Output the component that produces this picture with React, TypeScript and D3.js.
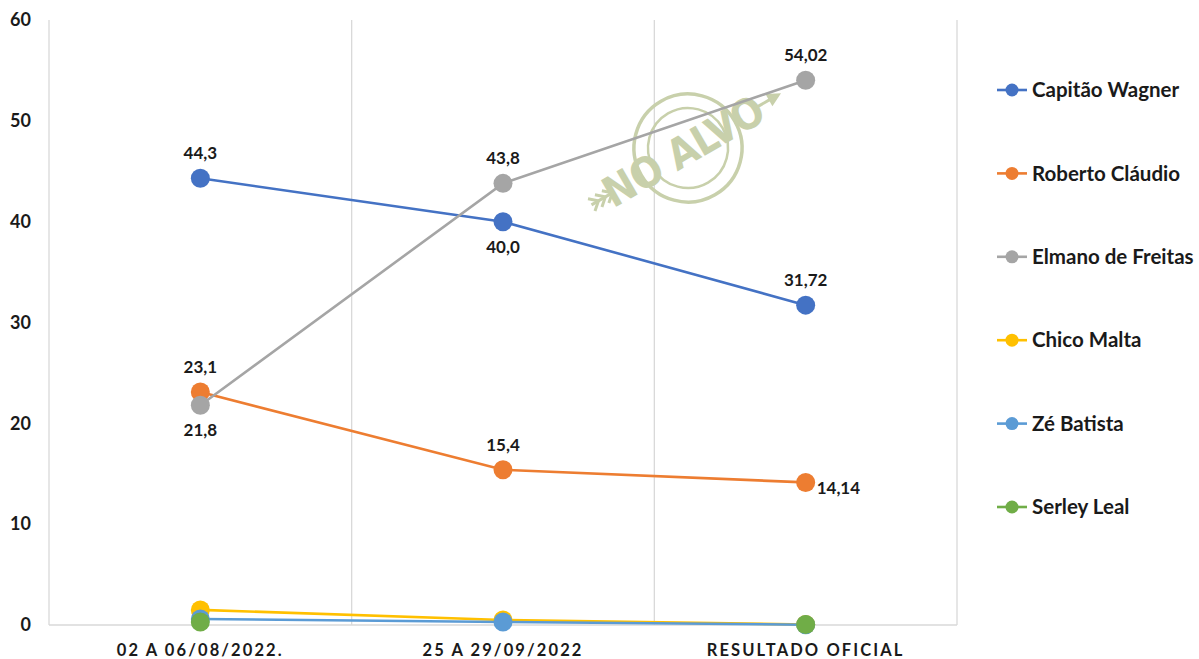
import React from "react";
import * as d3 from "d3";

const categories = ["02 A 06/08/2022.", "25 A 29/09/2022", "RESULTADO OFICIAL"];
const seriesNames = ["Capitão Wagner", "Roberto Cláudio", "Elmano de Freitas", "Chico Malta", "Zé Batista", "Serley Leal"];
const capitaoWagner: (number | null)[] = [44.3, 40.0, 31.72];
const robertoClaudio: (number | null)[] = [23.1, 15.4, 14.14];
const elmanoFreitas: (number | null)[] = [21.8, 43.8, 54.02];
const chicoMalta: (number | null)[] = [1.5, 0.5, 0.05];
const zeBatista: (number | null)[] = [0.6, 0.3, 0.03];
const serleyLeal: (number | null)[] = [0.3, null, 0.04];
const colors = ["#4472C4", "#ED7D31", "#A5A5A5", "#FFC000", "#5B9BD5", "#70AD47"];
const yTicks = [0, 10, 20, 30, 40, 50, 60];
// labels: [seriesIndex, pointIndex, text, position]
const dataLabels: [number, number, string, string][] = [
  [0, 0, "44,3", "above"], [0, 1, "40,0", "below"], [0, 2, "31,72", "above"],
  [1, 0, "23,1", "above"], [1, 1, "15,4", "above"], [1, 2, "14,14", "right"],
  [2, 0, "21,8", "below"], [2, 1, "43,8", "above"], [2, 2, "54,02", "above"],
];

const allSeries = [capitaoWagner, robertoClaudio, elmanoFreitas, chicoMalta, zeBatista, serleyLeal];

export default function App() {
  const W = 1199, H = 659;
  const left = 49, right = 957, top = 20, bottom = 625;
  const x = d3.scaleBand<string>().domain(categories).range([left, right]);
  const y = d3.scaleLinear().domain([0, 60]).range([bottom, top]);
  const cx = (i: number) => (x(categories[i]) as number) + x.bandwidth() / 2;
  const line = d3.line<number | null>().defined((v) => v != null).x((_, i) => cx(i)).y((v) => y(v as number));
  const font = "Lato, 'Open Sans', sans-serif";
  const grid = "#d9d9d9";
  const wm = "#c8d0ab";

  return (
    <svg width={W} height={H} style={{ position: "absolute", left: 0, top: 0, background: "#fff" }} fontFamily={font}>
      {/* grid */}
      <line x1={left} x2={left} y1={top} y2={bottom} stroke={grid} strokeWidth={1.3} />
      {categories.map((c) => (
        <line key={c} x1={(x(c) as number) + x.bandwidth()} x2={(x(c) as number) + x.bandwidth()} y1={top} y2={bottom} stroke={grid} strokeWidth={1.3} />
      ))}
      <line x1={left} x2={right} y1={bottom} y2={bottom} stroke={grid} strokeWidth={1.3} />
      {/* y tick labels */}
      {yTicks.map((t) => (
        <text key={t} x={31} y={y(t)} dy="0.35em" textAnchor="end" fontSize={18} fontWeight={700} fill="#1a1a1a">{t}</text>
      ))}
      {/* x labels */}
      {categories.map((c, i) => (
        <text key={c} x={cx(i)} y={656} textAnchor="middle" fontSize={16.5} fontWeight={700} letterSpacing={2.1} fill="#1a1a1a">{c}</text>
      ))}
      {/* watermark */}
      <g transform="translate(688,148) rotate(-30)">
        <circle r={54} fill="none" stroke={wm} strokeWidth={3.5} />
        <circle r={40} fill="none" stroke={wm} strokeWidth={2.5} />
        <text x={-6} y={15} textAnchor="middle" fontSize={42} fontWeight={700} fill={wm} fontFamily="'DejaVu Sans Condensed', 'Liberation Sans Narrow', sans-serif" letterSpacing={-1}>NO ALVO</text>
        <line x1={80} x2={96} y1={-1} y2={-1} stroke={wm} strokeWidth={3} />
        <path d="M94,-8 L108,-1 L94,6 Z" fill={wm} />
        <line x1={-112} x2={-86} y1={1} y2={1} stroke={wm} strokeWidth={3} />
        <path d="M-112,-6 L-104,1 L-112,8 M-104,-6 L-96,1 L-104,8 M-96,-6 L-88,1 L-96,8" fill="none" stroke={wm} strokeWidth={3} />
      </g>
      {/* series */}
      {allSeries.map((s, si) => (
        <g key={si}>
          <path d={line(s) as string} fill="none" stroke={colors[si]} strokeWidth={2.6} />
          {s.map((v, i) => v == null ? null : (
            <circle key={i} cx={cx(i)} cy={y(v)} r={9.5} fill={colors[si]} />
          ))}
        </g>
      ))}
      {/* data labels */}
      {dataLabels.map(([si, pi, txt, pos], k) => {
        const px = cx(pi), py = y(allSeries[si][pi] as number);
        let tx = px, ty = py, anchor = "middle";
        if (pos === "above") ty = py - 19;
        else if (pos === "below") ty = py + 31;
        else { tx = px + 11; ty = py + 12; anchor = "start"; }
        return (
          <text key={k} x={tx} y={ty} textAnchor={anchor as any} fontSize={17} fontWeight={700} fill="#1a1a1a">{txt}</text>
        );
      })}
      {/* legend */}
      {seriesNames.map((n, i) => {
        const ly = 90 + i * 83.4;
        return (
          <g key={n}>
            <line x1={997} x2={1027} y1={ly} y2={ly} stroke={colors[i]} strokeWidth={2.6} />
            <circle cx={1012} cy={ly} r={6.5} fill={colors[i]} />
            <text x={1032} y={ly} dy="0.35em" fontSize={20.5} fontWeight={700} fill="#1a1a1a">{n}</text>
          </g>
        );
      })}
    </svg>
  );
}
